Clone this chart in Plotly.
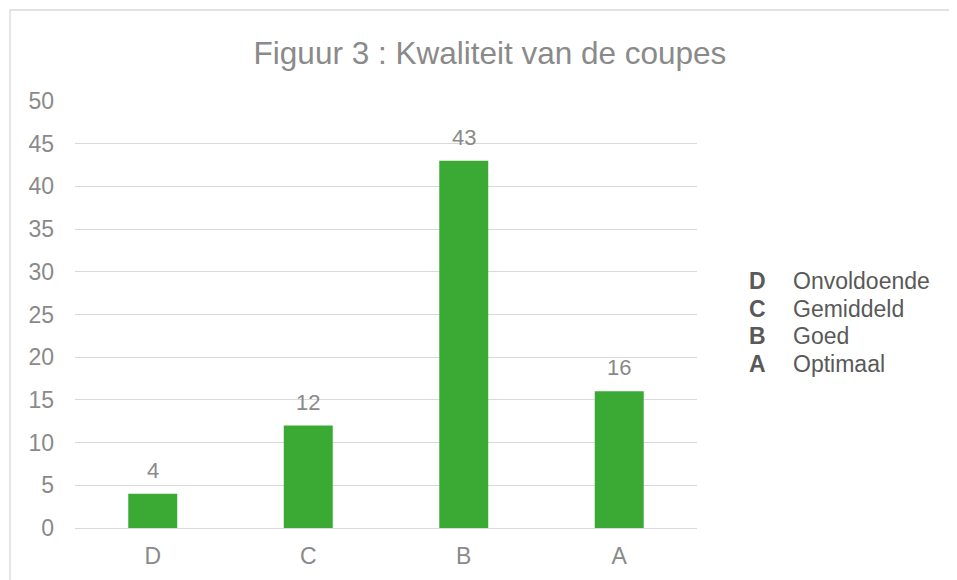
import plotly.graph_objects as go

categories = ["D", "C", "B", "A"]
values = [4, 12, 43, 16]
legend_letters = ["D", "C", "B", "A"]
legend_labels = ["Onvoldoende", "Gemiddeld", "Goed", "Optimaal"]
y_ticks = [0, 5, 10, 15, 20, 25, 30, 35, 40, 45, 50]
title_text = "Figuur 3 : Kwaliteit van de coupes"

FONT = "Liberation Sans, Arial, sans-serif"
GRAY = "#8A8A8A"
DARK = "#595959"
GREEN = "#3AAA35"

# page body has an 8px default margin; work in absolute window pixels
OFF = 8
W, H = 957 - OFF, 580 - OFF
L, R, T, B = 75 - OFF, 957 - 697, 101 - OFF, 580 - 528
pw, ph = W - L - R, H - T - B


def px_x(x_abs):
    return (x_abs - OFF - L) / pw


def px_y(y_abs):
    return (H - B - (y_abs - OFF)) / ph


fig = go.Figure()
fig.add_trace(go.Bar(x=categories, y=values, marker=dict(color=GREEN, line=dict(width=0)),
                     hoverinfo="x+y"))

annotations = []
for c, v in zip(categories, values):
    annotations.append(dict(x=c, y=v, xref="x", yref="y", text=str(v), showarrow=False,
                            yanchor="bottom", yshift=9,
                            font=dict(family=FONT, size=22, color=GRAY)))

for i, (letter, lab) in enumerate(zip(legend_letters, legend_labels)):
    yp = px_y(281 + i * 27.5)
    annotations.append(dict(x=px_x(757), y=yp, xref="paper", yref="paper",
                            text="<b>" + letter + "</b>", showarrow=False,
                            xanchor="center", yanchor="middle",
                            font=dict(family=FONT, size=23, color=DARK)))
    annotations.append(dict(x=px_x(791), y=yp, xref="paper", yref="paper",
                            text=lab, showarrow=False,
                            xanchor="left", yanchor="middle",
                            font=dict(family=FONT, size=23, color=DARK)))

fig.update_layout(
    width=W, height=H,
    margin=dict(l=L, r=R, t=T, b=B),
    paper_bgcolor="white", plot_bgcolor="white",
    title=dict(text=title_text, x=(490 - OFF) / W, xanchor="center", xref="container",
               y=1 - (53 - OFF) / H, yanchor="middle", yref="container",
               font=dict(family=FONT, size=31.5, color=GRAY)),
    bargap=0.685,
    showlegend=False,
    annotations=annotations,
    xaxis=dict(type="category", categoryorder="array", categoryarray=categories,
               showgrid=False, showline=False, zeroline=False, ticks="",
               tickfont=dict(family=FONT, size=23, color=GRAY), ticklabelstandoff=12),
    yaxis=dict(range=[0, 50], tickvals=y_ticks, showgrid=True, gridcolor="#D9D9D9",
               gridwidth=1.3, zeroline=True, zerolinecolor="#D9D9D9", zerolinewidth=1.3,
               showline=False, ticks="",
               tickfont=dict(family=FONT, size=23, color=GRAY), ticklabelstandoff=20),
    shapes=[dict(type="rect", xref="paper", yref="paper",
                 x0=px_x(10), x1=px_x(1300),
                 y0=px_y(900), y1=px_y(10),
                 line=dict(color="#D9D9D9", width=1.3), fillcolor="rgba(0,0,0,0)", layer="below")],
)

fig.write_html("out.html")
